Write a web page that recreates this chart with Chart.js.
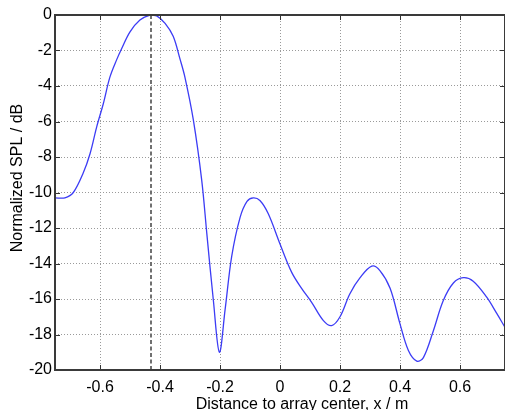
<!DOCTYPE html>
<html>
<head>
<meta charset="utf-8">
<script src="https://cdn.jsdelivr.net/npm/chart.js@4.4.0/dist/chart.umd.min.js"></script>
<style>
  html, body { margin: 0; padding: 0; background: #fff; overflow: hidden; }
  #wrap { position: relative; width: 505px; height: 410px; }
</style>
</head>
<body>
<div id="wrap"><canvas id="c" width="505" height="410"></canvas></div>
<script>
// Data
const xValues = [-0.75, -0.717, -0.689, -0.656, -0.633, -0.611, -0.589, -0.567, -0.544, -0.528, -0.5, -0.467, -0.433, -0.411, -0.383, -0.356, -0.333, -0.317, -0.289, -0.261, -0.244, -0.222, -0.202, -0.183, -0.161, -0.133, -0.110, -0.089, -0.067, -0.039, 0, 0.039, 0.072, 0.106, 0.144, 0.172, 0.2, 0.233, 0.267, 0.306, 0.333, 0.367, 0.4, 0.428, 0.456, 0.478, 0.511, 0.544, 0.578, 0.611, 0.644, 0.689, 0.722, 0.75];
const yValues = [-10.3, -10.3, -10.0, -8.9, -7.8, -6.3, -5.0, -3.5, -2.5, -1.9, -0.95, -0.28, 0, -0.05, -0.47, -1.2, -2.5, -3.5, -5.9, -9.3, -12.3, -16.1, -19.0, -16.6, -13.6, -11.4, -10.5, -10.3, -10.45, -11.2, -12.9, -14.5, -15.4, -16.2, -17.2, -17.5, -17.0, -15.7, -14.8, -14.15, -14.4, -15.4, -17.4, -18.9, -19.5, -19.3, -17.8, -16.1, -15.1, -14.8, -15.0, -15.9, -16.8, -17.6];
const peakLineX = [-0.43, -0.43];
const peakLineY = [0, -20];
const xTicks = [-0.6, -0.4, -0.2, 0, 0.2, 0.4, 0.6];
const yTicks = [-20, -18, -16, -14, -12, -10, -8, -6, -4, -2, 0];
const xTitle = 'Distance to array center, x / m';
const yTitle = 'Normalized SPL / dB';

const FONT = '"Liberation Sans", Arial, sans-serif';

const framePlugin = {
  id: 'frame',
  afterDraw(chart) {
    const { ctx, chartArea: a, scales } = chart;
    ctx.save();
    ctx.strokeStyle = '#333';
    ctx.lineWidth = 1;
    ctx.setLineDash([]);
    xTicks.forEach(v => {
      const px = Math.round(scales.x.getPixelForValue(v)) + 0.5;
      ctx.beginPath();
      ctx.moveTo(px, a.bottom); ctx.lineTo(px, a.bottom - 5);
      ctx.moveTo(px, a.top); ctx.lineTo(px, a.top + 5);
      ctx.stroke();
    });
    yTicks.forEach(v => {
      const py = Math.round(scales.y.getPixelForValue(v)) + 0.5;
      ctx.beginPath();
      ctx.moveTo(a.left, py); ctx.lineTo(a.left + 5, py);
      ctx.moveTo(a.right, py); ctx.lineTo(a.right - 5, py);
      ctx.stroke();
    });
    ctx.strokeStyle = '#3a3a3a';
    ctx.lineWidth = 2;
    ctx.strokeRect(a.left, a.top, a.right - a.left, a.bottom - a.top);
    ctx.fillStyle = '#000';
    ctx.font = '16px ' + FONT;
    ctx.textAlign = 'center';
    ctx.textBaseline = 'middle';
    ctx.fillText(xTitle, 302, 405);
    ctx.translate(18, 178);
    ctx.rotate(-Math.PI / 2);
    ctx.fillText(yTitle, 0, 0);
    ctx.restore();
  }
};

new Chart(document.getElementById('c'), {
  type: 'scatter',
  data: {
    datasets: [
      {
        data: xValues.map((x, i) => ({ x: x, y: yValues[i] })),
        showLine: true,
        borderColor: '#3c3cf5',
        borderWidth: 1.3,
        pointRadius: 0,
        tension: 0.35,
        fill: false
      },
      {
        data: peakLineX.map((x, i) => ({ x: x, y: peakLineY[i] })),
        showLine: true,
        borderColor: '#707070',
        borderWidth: 2,
        borderDash: [4, 2.5],
        pointRadius: 0,
        fill: false
      }
    ]
  },
  plugins: [framePlugin],
  options: {
    responsive: false,
    animation: false,
    layout: { padding: { top: 15, right: 0, left: 0, bottom: 0 } },
    plugins: { legend: { display: false }, tooltip: { enabled: false } },
    scales: {
      x: {
        type: 'linear',
        min: -0.75,
        max: 0.75,
        afterBuildTicks(scale) { scale.ticks = xTicks.map(v => ({ value: v })); },
        afterFit(scale) { scale.height = 40; },
        grid: { color: '#9a9a9a', lineWidth: 1, drawTicks: false },
        border: { display: false, dash: [1, 2] },
        ticks: {
          padding: 8,
          color: '#000',
          font: { family: FONT, size: 16 },
          maxRotation: 0,
          callback: v => String(Number(Number(v).toFixed(1)))
        }
      },
      y: {
        type: 'linear',
        min: -20,
        max: 0,
        afterBuildTicks(scale) { scale.ticks = yTicks.map(v => ({ value: v })); },
        afterFit(scale) { scale.width = 55; },
        grid: { color: '#9a9a9a', lineWidth: 1, drawTicks: false },
        border: { display: false, dash: [1, 2] },
        ticks: {
          padding: 3,
          color: '#000',
          font: { family: FONT, size: 16 },
          callback: v => String(v)
        }
      }
    }
  }
});
</script>
</body>
</html>
